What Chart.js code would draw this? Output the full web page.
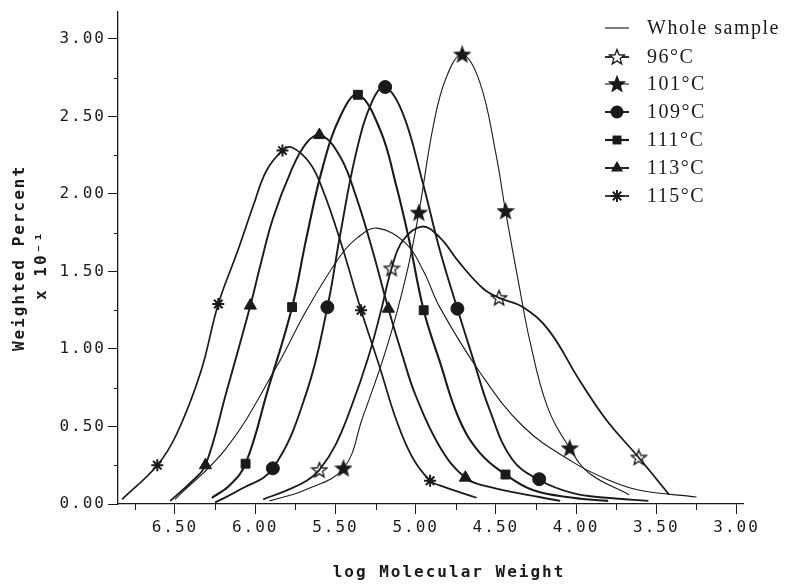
<!DOCTYPE html>
<html>
<head>
<meta charset="utf-8">
<script src="https://cdn.jsdelivr.net/npm/chart.js@4/dist/chart.umd.min.js"></script>
<style>
  body { margin: 0; background: #fff; }
</style>
</head>
<body>
<canvas id="chart" width="793" height="584"></canvas>
<script>
// log molecular weight (x) and weighted percent x 10^-1 (y)
const wholeX = [6.50, 6.18, 5.87, 5.68, 5.47, 5.36, 5.24, 5.06, 4.95, 4.85, 4.60, 4.33, 4.02, 3.81, 3.61, 3.25];
const wholeY = [0.03, 0.36, 0.88, 1.25, 1.60, 1.72, 1.78, 1.68, 1.50, 1.27, 0.85, 0.50, 0.27, 0.16, 0.09, 0.045];

const x96 = [5.95, 5.80, 5.68, 5.60, 5.50, 5.40, 5.30, 5.22, 5.15, 5.08, 4.96, 4.85, 4.73, 4.58, 4.48, 4.33, 4.17, 3.98, 3.81, 3.61, 3.42];
const y96 = [0.03, 0.09, 0.15, 0.22, 0.38, 0.63, 0.93, 1.23, 1.52, 1.70, 1.79, 1.72, 1.56, 1.39, 1.33, 1.27, 1.12, 0.80, 0.54, 0.30, 0.06];
const mx96 = [5.60, 5.15, 4.48, 3.61];
const my96 = [0.22, 1.52, 1.33, 0.30];

const x101 = [5.91, 5.69, 5.45, 5.33, 5.18, 5.06, 4.98, 4.89, 4.81, 4.71, 4.60, 4.50, 4.44, 4.35, 4.29, 4.18, 4.04, 3.92, 3.67];
const y101 = [0.02, 0.09, 0.23, 0.56, 1.01, 1.47, 1.88, 2.44, 2.75, 2.90, 2.72, 2.26, 1.89, 1.38, 1.06, 0.63, 0.36, 0.20, 0.06];
const mx101 = [5.45, 4.98, 4.71, 4.44, 4.04];
const my101 = [0.23, 1.88, 2.90, 1.89, 0.36];

const x109 = [6.25, 6.10, 5.89, 5.68, 5.55, 5.47, 5.37, 5.27, 5.19, 5.08, 4.96, 4.85, 4.74, 4.64, 4.54, 4.40, 4.23, 4.02, 3.81, 3.55];
const y109 = [0.01, 0.09, 0.23, 0.72, 1.27, 1.74, 2.27, 2.60, 2.69, 2.52, 2.09, 1.64, 1.26, 0.93, 0.61, 0.29, 0.155, 0.07, 0.04, 0.02];
const mx109 = [5.89, 5.55, 5.19, 4.74, 4.23];
const my109 = [0.23, 1.27, 2.69, 1.26, 0.16];

const x111 = [6.27, 6.16, 6.06, 5.92, 5.77, 5.68, 5.58, 5.47, 5.36, 5.22, 5.12, 5.04, 4.95, 4.85, 4.73, 4.60, 4.44, 4.27, 4.02, 3.80];
const y111 = [0.04, 0.12, 0.26, 0.74, 1.27, 1.72, 2.17, 2.50, 2.64, 2.41, 2.05, 1.70, 1.25, 0.92, 0.55, 0.33, 0.19, 0.09, 0.04, 0.02];
const mx111 = [6.06, 5.77, 5.36, 4.95, 4.44];
const my111 = [0.26, 1.27, 2.64, 1.25, 0.19];

const x113 = [6.53, 6.39, 6.31, 6.18, 6.03, 5.97, 5.89, 5.78, 5.68, 5.59, 5.47, 5.37, 5.27, 5.17, 5.08, 5.00, 4.85, 4.69, 4.54, 4.23, 4.10];
const y113 = [0.02, 0.15, 0.25, 0.72, 1.28, 1.53, 1.84, 2.14, 2.33, 2.38, 2.24, 1.98, 1.64, 1.26, 0.95, 0.70, 0.37, 0.17, 0.11, 0.045, 0.02];
const mx113 = [6.31, 6.03, 5.60, 5.17, 4.69];
const my113 = [0.25, 1.28, 2.38, 1.26, 0.17];

const x115 = [6.83, 6.61, 6.49, 6.34, 6.23, 6.11, 6.01, 5.93, 5.83, 5.77, 5.66, 5.58, 5.47, 5.34, 5.22, 5.12, 5.02, 4.91, 4.85, 4.62];
const y115 = [0.03, 0.25, 0.45, 0.85, 1.29, 1.63, 1.93, 2.15, 2.28, 2.30, 2.20, 2.03, 1.70, 1.25, 0.87, 0.54, 0.30, 0.15, 0.12, 0.04];
const mx115 = [6.61, 6.23, 5.83, 5.34, 4.91];
const my115 = [0.25, 1.29, 2.28, 1.25, 0.15];

const xMajor = [6.5, 6.0, 5.5, 5.0, 4.5, 4.0, 3.5, 3.0];
const xMinor = [6.75, 6.25, 5.75, 5.25, 4.75, 4.25, 3.75, 3.25];
const yMajor = [0, 0.5, 1.0, 1.5, 2.0, 2.5, 3.0];
const yMinor = [0.25, 0.75, 1.25, 1.75, 2.25, 2.75];

const MONO = '"DejaVu Sans Mono", "Liberation Mono", monospace';
const INK = '#1a1a1a';

// five-point star marker, filled or open
function makeStar(filled) {
  const c = document.createElement('canvas');
  c.width = 18; c.height = 18;
  const g = c.getContext('2d');
  g.beginPath();
  for (let i = 0; i < 10; i++) {
    const r = i % 2 === 0 ? 8 : 3.4;
    const a = -Math.PI / 2 + i * Math.PI / 5;
    g.lineTo(9 + r * Math.cos(a), 9.5 + r * Math.sin(a));
  }
  g.closePath();
  g.fillStyle = filled ? INK : '#fff';
  g.fill();
  g.lineWidth = 1.3;
  g.strokeStyle = INK;
  g.stroke();
  return c;
}
const openStar = makeStar(false);
const fullStar = makeStar(true);

const series = [
  { name: 'Whole sample', x: wholeX, y: wholeY, mx: [], my: [], marker: null, width: 1.1 },
  { name: '96°C', x: x96, y: y96, mx: mx96, my: my96, marker: openStar, radius: 8, width: 1.8 },
  { name: '101°C', x: x101, y: y101, mx: mx101, my: my101, marker: fullStar, radius: 8, width: 1.1 },
  { name: '109°C', x: x109, y: y109, mx: mx109, my: my109, marker: 'circle', radius: 6.5, width: 1.9 },
  { name: '111°C', x: x111, y: y111, mx: mx111, my: my111, marker: 'rect', radius: 6.3, width: 2.1 },
  { name: '113°C', x: x113, y: y113, mx: mx113, my: my113, marker: 'triangle', radius: 7, width: 1.9 },
  { name: '115°C', x: x115, y: y115, mx: mx115, my: my115, marker: 'star', radius: 6, width: 1.7 }
];

const toPoints = (xs, ys) => xs.map((v, i) => ({ x: v, y: ys[i] }));

const datasets = [];
series.forEach(s => {
  datasets.push({
    label: s.name,
    data: toPoints(s.x, s.y),
    borderColor: INK,
    borderWidth: s.width,
    pointRadius: 0,
    tension: 0.4,
    fill: false
  });
});
series.forEach(s => {
  if (!s.marker) return;
  datasets.push({
    label: s.name + ' markers',
    data: toPoints(s.mx, s.my),
    showLine: false,
    pointStyle: s.marker,
    pointRadius: s.radius,
    pointBackgroundColor: INK,
    pointBorderColor: INK,
    pointBorderWidth: s.marker === 'star' ? 2 : 1
  });
});

function drawMarker(ctx, m, r, x, y) {
  ctx.save();
  ctx.fillStyle = INK;
  ctx.strokeStyle = INK;
  if (m instanceof HTMLCanvasElement) {
    ctx.drawImage(m, x - m.width / 2, y - m.height / 2);
  } else if (m === 'circle') {
    ctx.beginPath(); ctx.arc(x, y, r, 0, Math.PI * 2); ctx.fill();
  } else if (m === 'rect') {
    const h = r * Math.SQRT1_2;
    ctx.fillRect(x - h, y - h, 2 * h, 2 * h);
  } else if (m === 'triangle') {
    ctx.beginPath();
    for (let i = 0; i < 3; i++) {
      const a = -Math.PI / 2 + i * 2 * Math.PI / 3;
      ctx.lineTo(x + r * Math.cos(a), y + r * Math.sin(a));
    }
    ctx.closePath(); ctx.fill();
  } else if (m === 'star') {
    ctx.lineWidth = 2;
    ctx.beginPath();
    for (let i = 0; i < 4; i++) {
      const a = i * Math.PI / 4;
      ctx.moveTo(x - r * Math.cos(a), y - r * Math.sin(a));
      ctx.lineTo(x + r * Math.cos(a), y + r * Math.sin(a));
    }
    ctx.stroke();
  }
  ctx.restore();
}

const legendY = [28, 57, 84, 112, 140, 168, 196];

const decor = {
  id: 'decor',
  beforeLayout(chart) { chart.ctx.letterSpacing = '2px'; },
  beforeDraw(chart) { chart.ctx.letterSpacing = '2px'; },
  afterDraw(chart) {
    const { ctx, scales: { x, y } } = chart;
    ctx.save();
    ctx.strokeStyle = INK;
    ctx.lineWidth = 1;
    xMinor.forEach(v => {
      const px = Math.round(x.getPixelForValue(v)) + 0.5;
      ctx.beginPath(); ctx.moveTo(px, y.bottom); ctx.lineTo(px, y.bottom + 6); ctx.stroke();
    });
    yMinor.forEach(v => {
      const py = Math.round(y.getPixelForValue(v)) + 0.5;
      ctx.beginPath(); ctx.moveTo(x.left - 4, py); ctx.lineTo(x.left, py); ctx.stroke();
    });

    // axis titles
    ctx.fillStyle = INK;
    ctx.font = 'bold 16px ' + MONO;
    ctx.letterSpacing = '2px';
    ctx.textAlign = 'center';
    ctx.textBaseline = 'middle';
    ctx.fillText('log Molecular Weight', 449, 573);
    ctx.save();
    ctx.translate(20, 258); ctx.rotate(-Math.PI / 2);
    ctx.fillText('Weighted Percent', 0, 0);
    ctx.restore();
    ctx.save();
    ctx.translate(42, 265); ctx.rotate(-Math.PI / 2);
    ctx.fillText('x 10⁻¹', 0, 0);
    ctx.restore();

    // legend
    ctx.font = '20px "Liberation Serif", "Times New Roman", serif';
    ctx.letterSpacing = '1.5px';
    ctx.textAlign = 'left';
    series.forEach((s, i) => {
      const ly = legendY[i];
      ctx.lineWidth = s.width;
      ctx.beginPath(); ctx.moveTo(605, ly); ctx.lineTo(629, ly); ctx.stroke();
      if (s.marker) drawMarker(ctx, s.marker, s.radius, 617, ly);
      ctx.fillText(s.name, 647, ly + 1);
    });
    ctx.restore();
  }
};

new Chart(document.getElementById('chart'), {
  type: 'line',
  data: { datasets },
  options: {
    responsive: false,
    devicePixelRatio: 1,
    animation: false,
    layout: { padding: { left: 0, right: 50, top: 12, bottom: 0 } },
    plugins: { legend: { display: false }, tooltip: { enabled: false } },
    scales: {
      x: {
        type: 'linear',
        reverse: true,
        min: 2.96,
        max: 6.855,
        afterBuildTicks: (scale) => { scale.ticks = xMajor.map(v => ({ value: v })); },
        afterFit: (scale) => { scale.height = 80; },
        ticks: {
          callback: (v) => Number(v).toFixed(2),
          font: { family: MONO, size: 16 },
          color: INK,
          padding: 4,
          maxRotation: 0,
          autoSkip: false
        },
        grid: { drawOnChartArea: false, tickLength: 10, color: INK, lineWidth: 1 },
        border: { color: INK, width: 1.3 }
      },
      y: {
        type: 'linear',
        min: 0,
        max: 3.174,
        afterBuildTicks: (scale) => { scale.ticks = yMajor.map(v => ({ value: v })); },
        afterFit: (scale) => { scale.width = 118; },
        ticks: {
          callback: (v) => Number(v).toFixed(2),
          font: { family: MONO, size: 16 },
          color: INK,
          padding: 2
        },
        grid: { drawOnChartArea: false, tickLength: 10, color: INK, lineWidth: 1 },
        border: { color: INK, width: 1.3 }
      }
    }
  },
  plugins: [decor]
});
</script>
</body>
</html>
